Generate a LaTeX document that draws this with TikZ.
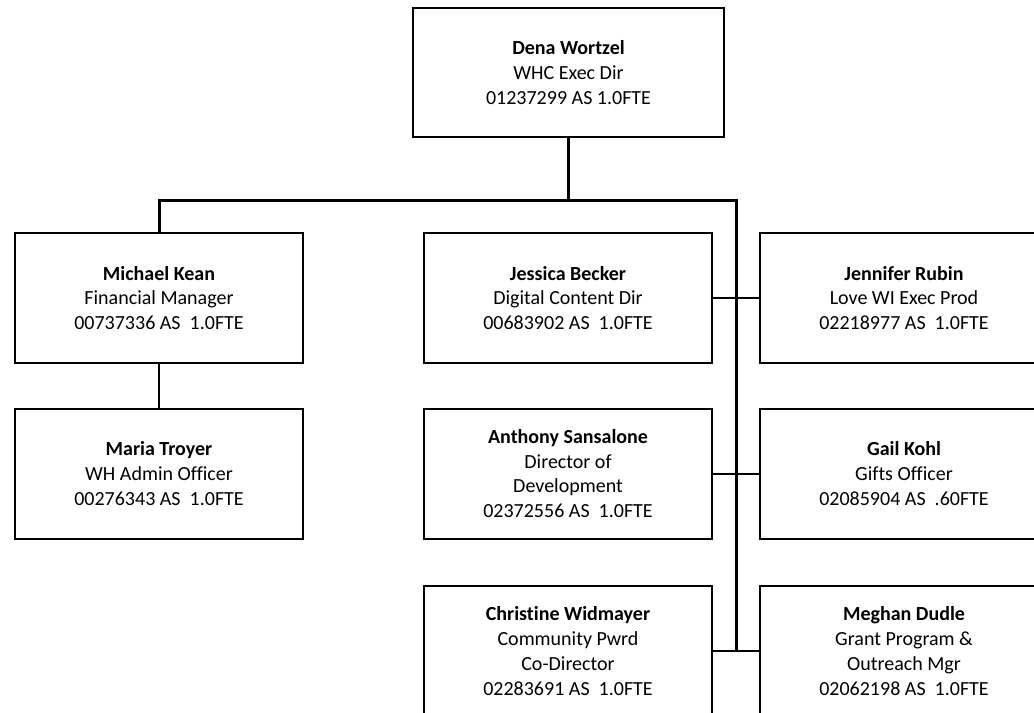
\documentclass[tikz,border=0pt]{standalone}
\usepackage{fontspec}
\setmainfont{Carlito}[Ligatures=NoCommon]
\tikzset{
  card/.style={draw=black, line width=1.5pt, fill=white, align=center,
    minimum width=216pt, minimum height=97.5pt, inner sep=0pt,
    font=\fontsize{15}{18.6}\selectfont},
  topcard/.style={card, minimum width=233pt, minimum height=96.75pt},
  trunk/.style={line width=2.25pt, line join=miter},
  link/.style={line width=1.5pt},
}
\begin{document}
\begin{tikzpicture}[x=0.75pt,y=-0.75pt]
  \useasboundingbox (0,0) rectangle (1034,713);
  \clip (0,0) rectangle (1034,713);

  % --- Director ---
  \node[topcard] (dw) at (568.5,72.5) {\textbf{Dena Wortzel}\\WHC Exec Dir\\01237299 AS 1.0FTE};

  % --- Left column ---
  \node[card] (mk) at (159,298) {\textbf{Michael Kean}\\Financial Manager\\00737336 AS\ \ 1.0FTE};
  \node[card] (mt) at (159,473.5) {\textbf{Maria Troyer}\\WH Admin Officer\\00276343 AS\ \ 1.0FTE};

  % --- Middle column ---
  \node[card] (jb) at (568,298) {\textbf{Jessica Becker}\\Digital Content Dir\\00683902 AS\ \ 1.0FTE};
  \node[card] (as) at (568,473.5) {\textbf{Anthony Sansalone}\\Director of\\Development\\02372556 AS\ \ 1.0FTE};
  \node[card] (cw) at (568,651) {\textbf{Christine Widmayer}\\Community Pwrd\\Co-Director\\02283691 AS\ \ 1.0FTE};

  % --- Right column (runs off the page) ---
  \node[card] (jr) at (904,298) {\textbf{Jennifer Rubin}\\Love WI Exec Prod\\02218977 AS\ \ 1.0FTE};
  \node[card] (gk) at (904,473.5) {\textbf{Gail Kohl}\\Gifts Officer\\02085904 AS\ \ .60FTE};
  \node[card] (md) at (904,651) {\textbf{Meghan Dudle}\\Grant Program \&\\Outreach Mgr\\02062198 AS\ \ 1.0FTE};

  % Junctions
  \coordinate (bus) at (dw.south |- 0,200);
  \coordinate (busL) at (mk.north |- bus);
  \coordinate (busR) at (736,200);
  \coordinate (spine) at (busR |- cw.east);

  % Trunk lines
  \draw[trunk] (dw.south) -- (bus);
  \draw[trunk] (mk.north) -- (busL) -- (busR) -- (spine);
  \draw[link] (mk.south) -- (mt.north);

  % Row links across the spine
  \foreach \a/\b in {jb/jr, as/gk, cw/md}
    \draw[link] (\a.east) -- (\b.west);
\end{tikzpicture}
\end{document}
